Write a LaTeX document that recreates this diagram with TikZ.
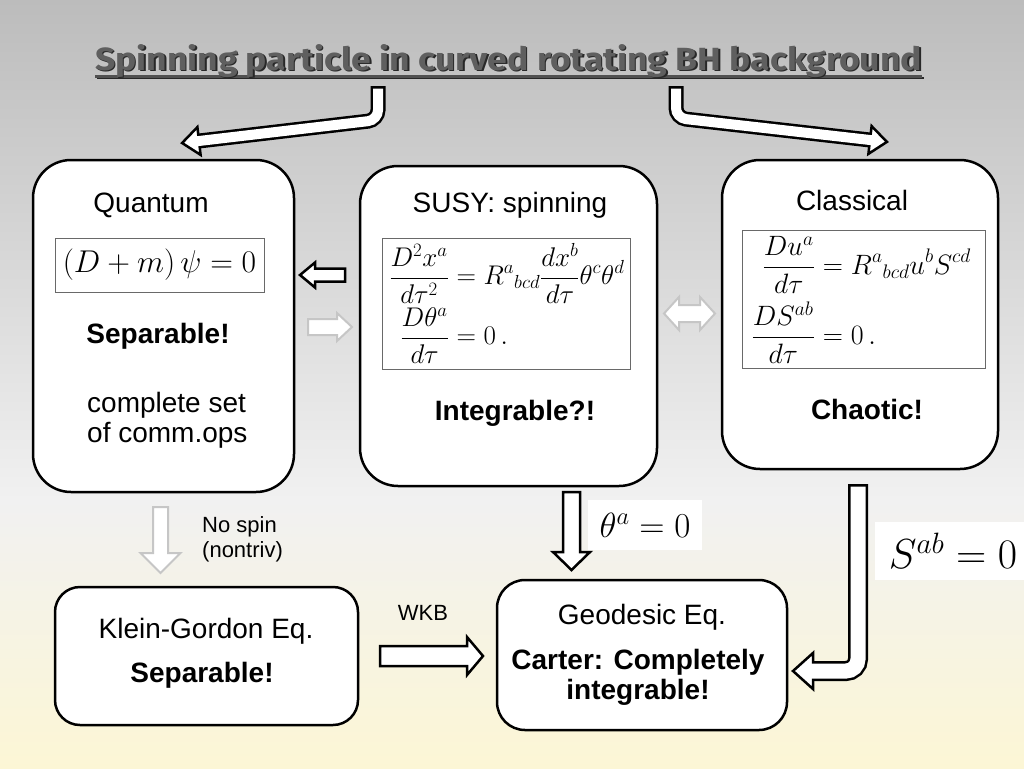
\RequirePackage{fix-cm}
\documentclass[tikz,border=0pt]{standalone}
\usepackage{amsmath}
\usepackage{fontspec}
\setmainfont{Liberation Sans}
\newfontfamily\titlefont{Fira Sans}

\definecolor{bgtop}{RGB}{188,188,188}
\definecolor{bgmid}{RGB}{241,241,241}
\definecolor{bgbot}{RGB}{252,246,213}
\definecolor{titlegray}{RGB}{95,95,95}
\definecolor{titleshadow}{RGB}{40,40,40}
\definecolor{arrgray}{RGB}{198,198,198}
\definecolor{eqframe}{RGB}{105,105,105}

\tikzset{
  panel/.style={draw=black, line width=2.5pt, fill=white, rounded corners=38pt, inner sep=0pt},
  eqbox/.style={draw=eqframe, line width=1pt, fill=white, inner sep=0pt},
  plainbox/.style={fill=white, inner sep=0pt},
  susyeq/.style={inner sep=0pt, font=\fontsize{27}{32}\selectfont},
  classeq/.style={inner sep=0pt, font=\fontsize{28}{32}\selectfont},
  lbl/.style={font=\fontsize{28}{32}\selectfont, inner sep=0pt, anchor=base},
  blbl/.style={font=\fontsize{28}{32}\selectfont\bfseries, inner sep=0pt, anchor=base},
  slbl/.style={font=\fontsize{22}{26}\selectfont, inner sep=0pt, anchor=base west},
  blockarrow/.style={draw=black, fill=white, line width=2.5pt, line join=miter},
  greyarrow/.style={draw=arrgray, fill=white, line width=2pt, line join=miter},
  titletxt/.style={inner sep=0pt, anchor=base},
}
\newcommand{\titletext}{\resizebox{827pt}{26pt}{\titlefont\bfseries\fontsize{36}{40}\selectfont Spinning particle in curved rotating BH background}}

\begin{document}
\begin{tikzpicture}[x=1pt,y=-1pt]
\useasboundingbox (0,0) rectangle (1024,768);
\shade[top color=bgtop, bottom color=bgmid] (0,0) rectangle (1024,500.5);
\shade[top color=bgmid, bottom color=bgbot] (0,500) rectangle (1024,768);

% title
\draw[line width=2.5pt, titleshadow] (96.5,78) -- (923.5,78);
\draw[line width=2.5pt, titlegray!85!black] (95,76.5) -- (922,76.5);
\node[titletxt, text=titleshadow] at (510,71.5) {\titletext};
\node[titletxt, text=titlegray] (title) at (508.5,70) {\titletext};

% panels
\node[panel, minimum width=261pt, minimum height=332pt] (quantum) at (163.5,326) {};
\node[panel, minimum width=297pt, minimum height=320pt] (susy) at (508.5,326) {};
\node[panel, minimum width=276pt, minimum height=309pt] (classical) at (860,314.5) {};
\node[panel, rounded corners=25pt, minimum width=303pt, minimum height=138pt] (kg) at (206.5,656) {};
\node[panel, rounded corners=28pt, minimum width=290pt, minimum height=150pt] (geo) at (642,655) {};

% quantum contents
\node[lbl] (qtitle) at (151,212) {Quantum};
\node[eqbox, minimum width=209pt, minimum height=54pt, font=\fontsize{31.5}{36}\selectfont] (qeq) at (159.5,265) {$(D+m)\,\psi=0$};
\node[blbl] (qsep) at (158,343) {Separable!};
\node[lbl, anchor=base west] (qcomp) at (87,412) {complete set};
\node[lbl, anchor=base west] (qcomm) at (87,442) {of comm.ops};

% susy contents
\node[lbl] (stitle) at (510,212) {SUSY: spinning};
\node[eqbox, minimum width=248pt, minimum height=131pt] (seqbox) at (506.5,303.5) {};
\node[susyeq, anchor=base east] (s1l) at (449,284.75) {$\displaystyle\frac{D^2x^a}{d\tau^2}$};
\node[susyeq, anchor=base west] (s1r) at (449,284.75) {$\displaystyle{}=R^a{}_{bcd}\frac{dx^b}{d\tau}\theta^c\theta^d$};
\node[susyeq, anchor=base east] (s2l) at (449,344.75) {$\displaystyle\frac{D\theta^a}{d\tau}$};
\node[susyeq, anchor=base west] (s2r) at (449,344.75) {$\displaystyle{}=0\,.$};
\node[blbl] (sint) at (515,420) {Integrable?!};

% classical contents
\node[lbl] (ctitle) at (852,210) {Classical};
\node[eqbox, minimum width=243pt, minimum height=138pt] (ceqbox) at (863.5,299) {};
\node[classeq, anchor=base east] (c1l) at (815,274.5) {$\displaystyle\frac{Du^a}{d\tau}$};
\node[classeq, anchor=base west] (c1r) at (815,274.5) {$\displaystyle{}=R^a{}_{bcd}u^bS^{cd}$};
\node[classeq, anchor=base east] (c2l) at (815,344.5) {$\displaystyle\frac{DS^{ab}}{d\tau}$};
\node[classeq, anchor=base west] (c2r) at (815,344.5) {$\displaystyle{}=0\,.$};
\node[blbl] (cchaos) at (867,419) {Chaotic!};

% KG contents
\node[lbl] (kgtitle) at (206,638) {Klein-Gordon Eq.};
\node[blbl] (kgsep) at (202,682) {Separable!};

% geodesic contents
\node[lbl] (geotitle) at (642,624) {Geodesic Eq.};
\node[blbl] (geocarter) at (638,669) {Carter: Completely};
\node[blbl] (geoint) at (638,699) {integrable!};

% small labels
\node[slbl] (nospin) at (202,532) {No spin};
\node[slbl] (nontriv) at (202,557) {(nontriv)};
\node[font=\fontsize{22}{26}\selectfont, inner sep=0pt, anchor=base] (wkb) at (423,620) {WKB};
\node[plainbox, minimum width=114pt, minimum height=50pt, font=\fontsize{35}{40}\selectfont] (thetabox) at (645,525) {$\theta^a=0$};
\node[plainbox, minimum width=156pt, minimum height=58pt, font=\fontsize{42}{48}\selectfont] (sbox) at (953,551) {$S^{ab}=0$};

% straight block arrows
% susy -> quantum
\draw[blockarrow] (345,268.5) -- (315,268.5) -- (315,262.5) -- (300,275) -- (315,287.5) -- (315,281.5) -- (345,281.5) -- cycle;
% quantum -> susy (grey)
\draw[greyarrow] (308,319) -- (337,319) -- (337,313) -- (352,327) -- (337,341) -- (337,335) -- (308,335) -- cycle;
% susy <-> classical (grey)
\draw[greyarrow] (664,313.5) -- (679,297) -- (679,305) -- (700,305) -- (700,297) -- (715,313.5) -- (700,330) -- (700,322) -- (679,322) -- (679,330) -- cycle;
% quantum -> KG (grey)
\draw[greyarrow] (153,507) -- (168,507) -- (168,553) -- (180.5,553) -- (160.5,573) -- (140.5,553) -- (153,553) -- cycle;
% susy -> geodesic
\draw[blockarrow] (563,492) -- (580,492) -- (580,552) -- (590,552) -- (571.5,570) -- (553,552) -- (563,552) -- cycle;
% KG -> geodesic (WKB)
\draw[blockarrow] (380,646) -- (467,646) -- (467,637) -- (483,656) -- (467,675) -- (467,666) -- (380,666) -- cycle;

% bent arrows: top left
\coordinate (tlTop) at (378,86);
\coordinate (tlTopW) at (378,88.5);
\coordinate (tlBend) at (378,120);
\coordinate (tlB) at (199,141);
\coordinate (tlBW) at (195.5,141.4);
\draw[line width=15pt, black, rounded corners=10pt] (tlTop) -- (tlBend) -- (tlB);
\draw[blockarrow] (200.6,154.9) -- (182.1,143.0) -- (197.4,127.1) -- cycle;
\draw[line width=10pt, white, rounded corners=10pt] (tlTopW) -- (tlBend) -- (tlBW);

% bent arrows: top right
\coordinate (trTop) at (676,86);
\coordinate (trTopW) at (676,88.5);
\coordinate (trBend) at (676,118);
\coordinate (trB) at (870,140);
\coordinate (trBW) at (873.5,140.4);
\draw[line width=15pt, black, rounded corners=10pt] (trTop) -- (trBend) -- (trB);
\draw[blockarrow] (868.4,153.9) -- (886.9,141.9) -- (871.6,126.1) -- cycle;
\draw[line width=10pt, white, rounded corners=10pt] (trTopW) -- (trBend) -- (trBW);

% bent arrow: classical to geodesic
\coordinate (brTop) at (858,484);
\coordinate (brTopW) at (858,486.5);
\coordinate (brBend) at (858,671);
\coordinate (brB) at (813,671);
\coordinate (brBW) at (809.5,671);
\draw[line width=20pt, black, rounded corners=12pt] (brTop) -- (brBend) -- (brB);
\draw[blockarrow] (813,653) -- (793,671) -- (813,689) -- cycle;
\draw[line width=15pt, white, rounded corners=12pt] (brTopW) -- (brBend) -- (brBW);
\end{tikzpicture}
\end{document}
